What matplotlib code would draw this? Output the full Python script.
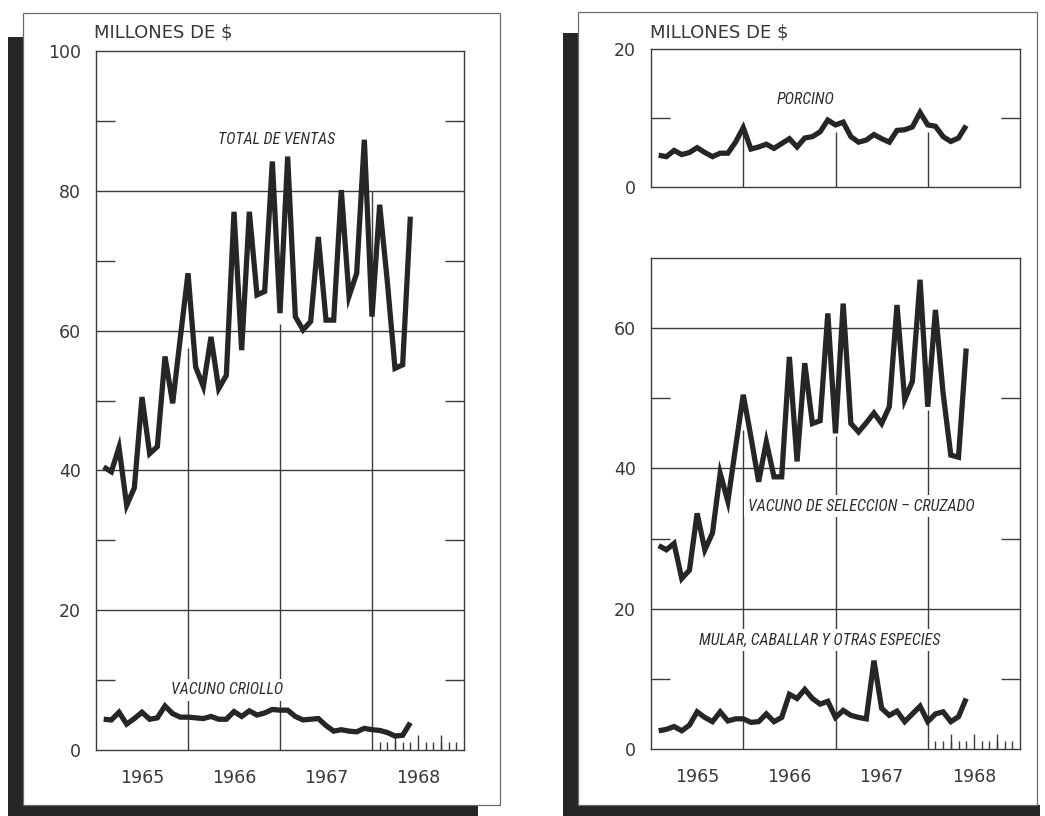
import numpy as np
import matplotlib
matplotlib.use("Agg")
import matplotlib.pyplot as plt
from matplotlib.patches import Rectangle
from matplotlib import font_manager

# monthly data, Jan 1965 .. May 1968 (plotted at month end)
months = np.arange(1, 42)
t = 1965 + months / 12

total_ventas = [40.5, 39.8, 43.3, 35.0, 37.5, 50.5, 42.4, 43.4, 56.3, 49.6,
                59.0, 68.2, 54.8, 52.0, 59.1, 51.7, 53.6, 77.0, 57.2, 77.0,
                65.1, 65.6, 84.2, 62.5, 84.9, 62.0, 60.1, 61.3, 73.4, 61.5,
                61.5, 80.1, 64.9, 68.2, 87.3, 62.0, 78.0, 67.0, 54.6, 55.1,
                76.3]
vacuno_criollo = [4.4, 4.3, 5.4, 3.7, 4.5, 5.4, 4.4, 4.6, 6.3, 5.2,
                  4.7, 4.7, 4.6, 4.5, 4.8, 4.4, 4.4, 5.5, 4.8, 5.6,
                  5.0, 5.3, 5.8, 5.7, 5.7, 4.8, 4.3, 4.4, 4.5, 3.5,
                  2.7, 2.9, 2.7, 2.6, 3.1, 2.9, 2.8, 2.5, 2.0, 2.1,
                  3.9]
porcino = [4.6, 4.4, 5.3, 4.7, 5.0, 5.7, 5.0, 4.4, 4.9, 4.9,
           6.5, 8.6, 5.5, 5.8, 6.2, 5.6, 6.3, 7.0, 5.8, 7.1,
           7.3, 8.0, 9.7, 9.0, 9.4, 7.3, 6.5, 6.8, 7.6, 7.0,
           6.5, 8.2, 8.3, 8.7, 10.8, 9.0, 8.8, 7.3, 6.6, 7.1,
           8.9]
vacuno_seleccion = [29.0, 28.4, 29.3, 24.3, 25.5, 33.6, 28.4, 30.8, 39.3, 35.3,
                    43.0, 50.5, 44.5, 38.1, 43.8, 38.8, 38.8, 55.9, 41.0, 55.0,
                    46.4, 46.8, 62.1, 45.0, 63.5, 46.4, 45.2, 46.5, 47.9, 46.4,
                    48.8, 63.3, 49.8, 52.4, 66.9, 48.8, 62.6, 50.7, 41.9, 41.6,
                    57.1]
mular_caballar = [2.6, 2.8, 3.2, 2.6, 3.4, 5.3, 4.5, 3.9, 5.3, 4.0,
                  4.3, 4.3, 3.8, 3.9, 5.0, 3.9, 4.5, 7.8, 7.2, 8.5,
                  7.2, 6.4, 6.8, 4.5, 5.5, 4.8, 4.5, 4.3, 12.6, 5.8,
                  4.8, 5.4, 3.9, 5.0, 6.1, 3.9, 5.0, 5.3, 3.9, 4.6,
                  7.2]

year_labels = ["1965", "1966", "1967", "1968"]

# narrow face for the hand-lettered series labels
names = {f.name for f in font_manager.fontManager.ttflist}
narrow = next((n for n in ["Roboto Condensed", "Liberation Sans Narrow",
                           "Archivo Narrow"] if n in names), "Liberation Sans")

W, H = 1045, 816
ink = "#262626"
grid = "#3c3c3c"
txt = "#383838"

fig = plt.figure(figsize=(W / 100, H / 100), dpi=100)
fig.patch.set_facecolor("white")


def px_rect(x0, y0, x1, y1, **kw):
    # rectangle given in pixel coords (y from top)
    r = Rectangle((x0 / W, 1 - y1 / H), (x1 - x0) / W, (y1 - y0) / H,
                  transform=fig.transFigure, zorder=-5, **kw)
    fig.add_artist(r)


# cards with dark shadow on the left and bottom
for sx, cx0, cx1, ctop, stop, send in [(8, 23, 500, 13, 37, 478),
                                       (563, 578, 1037, 12, 33, 1040)]:
    px_rect(sx, stop, cx0 + 2, H, fc="#262626", ec="none")
    px_rect(sx, 805, send, H, fc="#262626", ec="none")
    px_rect(cx0, ctop, cx1, 805, fc="white", ec="#6a6a6a", lw=0.9)


def axes_px(x0, y0, x1, y1):
    return fig.add_axes([x0 / W, 1 - y1 / H, (x1 - x0) / W, (y1 - y0) / H])


def setup(ax, ymax, labels, minor, hgrid, vtops, xlabels=True, month_ticks=True):
    ax.set_xlim(1965, 1969)
    ax.set_ylim(0, ymax)
    ax.set_facecolor("none")
    for s in ax.spines.values():
        s.set_color(grid)
        s.set_linewidth(1.0)
    ax.set_yticks(labels)
    ax.set_yticklabels([str(v) for v in labels])
    ax.set_yticks(minor, minor=True)
    ax.tick_params(axis="y", which="major", length=0, pad=11, labelsize=12.5,
                   labelcolor=txt)
    ax.tick_params(axis="y", which="minor", direction="in", length=14,
                   width=1.0, color=grid, left=True, right=True)
    for y in hgrid:
        ax.axhline(y, color=grid, lw=1.0, zorder=1)
    ax.vlines([1966, 1967, 1968], 0, vtops, color=grid, lw=1.0, zorder=1)
    if xlabels:
        ax.set_xticks([1965.5, 1966.5, 1967.5, 1968.5])
        ax.set_xticklabels(year_labels)
        ax.tick_params(axis="x", which="major", length=0, pad=14, labelsize=12.5,
                       labelcolor=txt)
    else:
        ax.set_xticks([])
    if month_ticks:
        ax.set_xticks(1968 + np.arange(1, 12) / 12, minor=True)
        ax.tick_params(axis="x", which="minor", direction="in", length=6,
                       width=1.0, color=grid)
        sec = ax.secondary_xaxis("bottom")
        sec.set_xticks([1968.25, 1968.5, 1968.75])
        sec.tick_params(direction="in", length=11, width=1.0, color=grid,
                        labelbottom=False)
        sec.spines["bottom"].set_visible(False)


def series(ax, values):
    ax.plot(t, values, color=ink, lw=3.8, solid_joinstyle="miter",
            solid_capstyle="butt", zorder=4)


def label(ax, x, y, text):
    ax.text(x, y, text, family=narrow, style="italic", fontsize=11.5,
            color="#2e2e2e", ha="center", va="center", zorder=3,
            bbox=dict(fc="white", ec="none", pad=2.5))


# left panel: total sales and native cattle
axL = axes_px(96, 51, 464, 750)
setup(axL, 100, [0, 20, 40, 60, 80, 100], [10, 30, 50, 70, 90],
      [20, 40, 60, 80], [57.5, 61, 80])
series(axL, total_ventas)
series(axL, vacuno_criollo)
label(axL, 1966.96, 87.4, "TOTAL DE VENTAS")
label(axL, 1966.42, 8.6, "VACUNO CRIOLLO")

# right top: pigs
axP = axes_px(651, 49, 1020, 187)
setup(axP, 20, [0, 20], [10], [], [8.5, 8.0, 8.0], xlabels=False,
      month_ticks=False)
series(axP, porcino)
label(axP, 1966.68, 12.7, "PORCINO")

# right bottom: improved cattle and other species
axS = axes_px(651, 258, 1020, 749)
setup(axS, 70, [0, 20, 40, 60], [10, 30, 50], [20, 40, 60],
      [45.5, 44.6, 48.3])
series(axS, vacuno_seleccion)
series(axS, mular_caballar)
label(axS, 1967.28, 34.6, "VACUNO DE SELECCION \u2013 CRUZADO")
label(axS, 1966.83, 15.5, "MULAR, CABALLAR Y OTRAS ESPECIES")

for x in (94, 650):
    fig.text(x / W, 1 - 33 / H, "MILLONES DE $", fontsize=13, color=txt,
             ha="left", va="center")

fig.savefig("out.png", dpi=100)
